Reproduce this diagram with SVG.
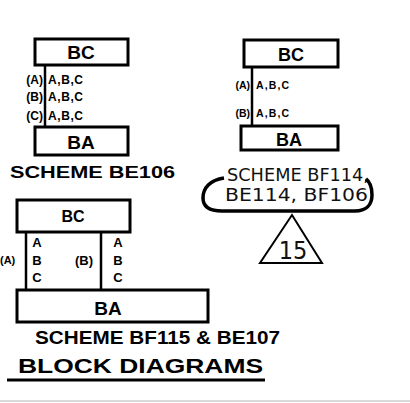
<svg xmlns="http://www.w3.org/2000/svg" width="410" height="403" viewBox="0 0 410 403">
<style>
.box{fill:#fff;stroke:#000;stroke-width:3}
.ln{stroke:#000;stroke-width:2.5;fill:none}
.hand{font-family:"Liberation Sans",Arial,sans-serif;font-weight:bold;fill:#000}
.type{font-family:"DejaVu Sans Condensed","DejaVu Sans",sans-serif;fill:#111}
</style>
<rect width="410" height="403" fill="#fff"/>
<g id="connectors">
<line class="ln" x1="45" y1="65" x2="45" y2="127"/>
<line class="ln" x1="252" y1="67" x2="252" y2="126"/>
<line class="ln" x1="26" y1="232" x2="26" y2="290"/>
<line class="ln" x1="101" y1="232" x2="101" y2="290"/>
</g>
<g id="s1-bc"><rect class="box" x="35" y="39" width="93" height="26"/><text class="hand" x="81" y="59" font-size="19" text-anchor="middle">BC</text></g>
<g id="s1-ba"><rect class="box" x="35" y="127" width="93" height="28"/><text class="hand" x="81" y="149" font-size="19" text-anchor="middle">BA</text></g>
<g id="s1-labels" class="hand" font-size="12">
<text x="43" y="84" text-anchor="end">(A)</text><text x="48" y="84" textLength="35">A,B,C</text>
<text x="43" y="101" text-anchor="end">(B)</text><text x="48" y="101" textLength="35">A,B,C</text>
<text x="43" y="120" text-anchor="end">(C)</text><text x="48" y="120" textLength="35">A,B,C</text>
<text x="10" y="178" font-size="16" textLength="165" lengthAdjust="spacingAndGlyphs">SCHEME BE106</text>
</g>
<g id="s2-bc"><rect class="box" x="244" y="40" width="94" height="27"/><text class="hand" x="291" y="61" font-size="18" text-anchor="middle">BC</text></g>
<g id="s2-ba"><rect class="box" x="241" y="126" width="97" height="24"/><text class="hand" x="289" y="146" font-size="18" text-anchor="middle">BA</text></g>
<g id="s2-labels" class="hand" font-size="10.5">
<text x="250" y="89" text-anchor="end">(A)</text><text x="256" y="89" textLength="33">A,B,C</text>
<text x="250" y="117" text-anchor="end">(B)</text><text x="256" y="117" textLength="33">A,B,C</text>
</g>
<g id="s2-caption">
<text class="type" x="227" y="181" font-size="18" textLength="142" lengthAdjust="spacingAndGlyphs">SCHEME BF114,</text>
<text class="type" x="225" y="201" font-size="18" textLength="143" lengthAdjust="spacingAndGlyphs">BE114, BF106</text>
<path d="M224,178 C210,180 203,188 203,198 C203,207 210,211 222,211 L355,211 C366,211 372,205 372,195 C372,187 370,182 366,179" fill="none" stroke="#000" stroke-width="3.5"/>
</g>
<g id="s2-tri">
<polygon points="292,215 260,263 322,263" fill="#fff" stroke="#000" stroke-width="2"/>
<text class="type" x="293" y="259" font-size="25" text-anchor="middle">15</text>
</g>
<g id="s3-bc"><rect class="box" x="17" y="200" width="113" height="32"/><text class="hand" x="73" y="222" font-size="16" text-anchor="middle">BC</text></g>
<g id="s3-ba"><rect class="box" x="17" y="290" width="191" height="32"/><text class="hand" x="108" y="315" font-size="19" text-anchor="middle">BA</text></g>
<g id="s3-labels" class="hand" font-size="13">
<text x="37" y="247" text-anchor="middle">A</text><text x="37" y="265" text-anchor="middle">B</text><text x="37" y="282" text-anchor="middle">C</text>
<text x="118" y="247" text-anchor="middle">A</text><text x="118" y="265" text-anchor="middle">B</text><text x="118" y="282" text-anchor="middle">C</text>
<text x="0" y="264" font-size="11">(A)</text>
<text x="75" y="265" font-size="13">(B)</text>
<text x="35" y="344" font-size="18" textLength="245" lengthAdjust="spacingAndGlyphs">SCHEME BF115 &amp; BE107</text>
<text x="18" y="373" font-size="21" textLength="245" lengthAdjust="spacingAndGlyphs">BLOCK DIAGRAMS</text>
</g>
<line x1="7" y1="380" x2="265" y2="380" stroke="#000" stroke-width="3"/>
<line x1="0" y1="401" x2="410" y2="401" stroke="#ccc" stroke-width="1.5"/>
</svg>
